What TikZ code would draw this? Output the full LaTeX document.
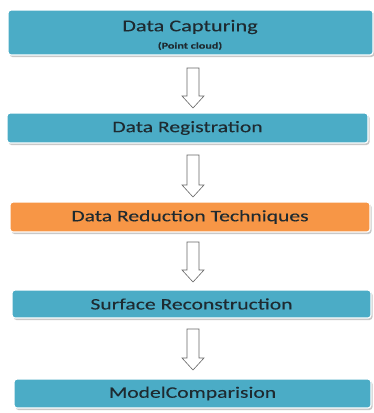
\documentclass[tikz,border=0pt]{standalone}
\usepackage{fontspec}
\setmainfont{Carlito}
\newfontfamily\boxfont[FakeStretch=1.35,FakeBold=0.1]{Carlito}
\usetikzlibrary{calc,shadows}
\definecolor{teal}{HTML}{4BACC6}
\definecolor{orng}{HTML}{F79646}
\definecolor{txt}{HTML}{1E2A30}
\begin{document}
\begin{tikzpicture}[x=1pt,y=-1pt]

		\tikzstyle{mybox}=[rectangle,
		rounded corners=3pt,
		draw=white,
		line width=1.2pt,
		fill=teal,
		drop shadow={shadow xshift=1.5pt,shadow yshift=-2pt,fill=gray!60,opacity=0.7},
		text=txt,
		inner sep=0pt,
		font=\boxfont\fontsize{16}{18}\selectfont
		]
		\tikzstyle{myboxorange}=[mybox,fill=orng]
		\tikzstyle{myarrow}=[draw=gray!80!black,
		line width=0.6pt,
		fill=white,
		to path={let \p1=(\tikztostart), \p2=(\tikztotarget) in
		(\x1-6pt,\y1) -- (\x1+6pt,\y1) -- (\x1+6pt,\y2+12pt) -- (\x1+11pt,\y2+12pt)
		-- (\x1,\y2) -- (\x1-11pt,\y2+12pt) -- (\x1-6pt,\y2+12pt) -- cycle}
		]

		\fill[white] (0,0) rectangle (374,413);

		\coordinate (pb1) at (190.5, 32.5);
		\coordinate (pb2) at (187.5, 128);
		\coordinate (pb3) at (190, 217);
		\coordinate (pb4) at (191.5, 304);
		\coordinate (pb5) at (192.5, 393.5);

		\coordinate (s1) at (193, 68);
		\coordinate (e1) at (193, 108);
		\coordinate (s2) at (193, 155);
		\coordinate (e2) at (193, 197);
		\coordinate (s3) at (193, 242);
		\coordinate (e3) at (193, 282);
		\coordinate (s4) at (193, 329);
		\coordinate (e4) at (193, 370);

		\node[mybox,minimum width=365pt,minimum height=45pt] (b1) at (pb1) {};
		\node[text=txt,font=\boxfont\fontsize{16.5}{18}\selectfont] (t1) at (190, 27) {Data Capturing};
		\node[text=txt,font=\boxfont\fontsize{9}{10}\selectfont\bfseries] (t1b) at (190, 46) {(Point cloud)};
		\node[mybox,minimum width=361pt,minimum height=30pt] (b2) at (pb2) {Data Registration};
		\node[myboxorange,minimum width=360pt,minimum height=30pt] (b3) at (pb3) {Data Reduction Techniques};
		\node[mybox,minimum width=359pt,minimum height=28pt] (b4) at (pb4) {Surface Reconstruction};
		\node[mybox,minimum width=357pt,minimum height=29pt] (b5) at (pb5) {ModelComparision};

		\draw[myarrow] (s1) to (e1);
		\draw[myarrow] (s2) to (e2);
		\draw[myarrow] (s3) to (e3);
		\draw[myarrow] (s4) to (e4);

\end{tikzpicture}
\end{document}
